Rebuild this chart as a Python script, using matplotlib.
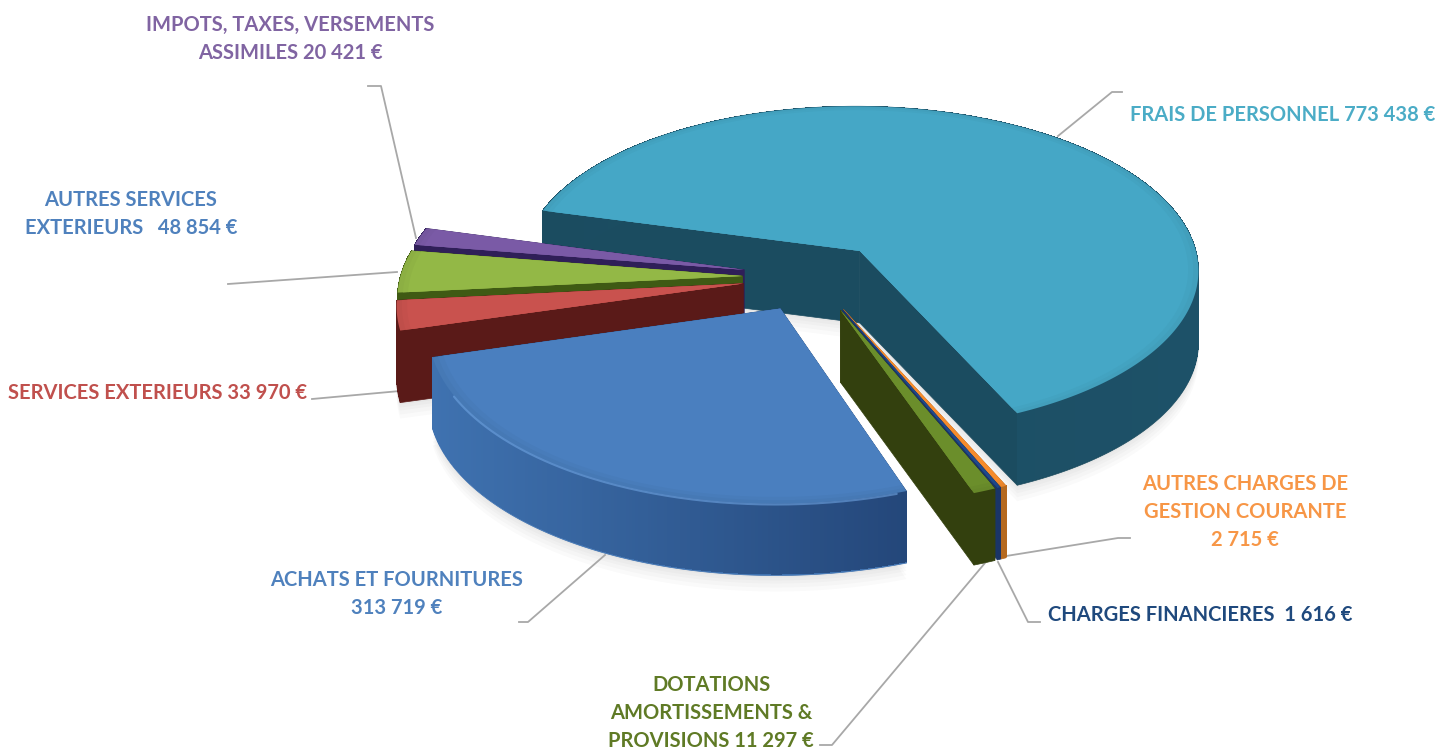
import numpy as np
import matplotlib
matplotlib.use("Agg")
import matplotlib.pyplot as plt
from matplotlib.colors import to_rgb

# clockwise from the back left, same order as the original pie
names = ["FRAIS DE PERSONNEL", "AUTRES CHARGES", "CHARGES FINANCIERES", "DOTATIONS",
         "ACHATS", "SERVICES EXTERIEURS", "AUTRES SERVICES", "IMPOTS"]
values = [773438, 2715, 1616, 11297, 313719, 33970, 48854, 20421]
top_colors = ["#45a7c6", "#f58b2c", "#1f4a8c", "#6b8e2b", "#4a7fbf", "#c9524e", "#93b846", "#7a5aa6"]
wall_left = ["#1b4c60", "#b5691f", "#1a3568", "#33400e", "#3f72b0", "#5a1a18", "#3f5a14", "#2f1f58"]
wall_right = ["#1d5168", "#b5691f", "#1a3568", "#33400e", "#24477a", "#5a1a18", "#3f5a14", "#2f1f58"]

labels = ["FRAIS DE PERSONNEL 773 438 €", "AUTRES CHARGES DE\nGESTION COURANTE\n2 715 €",
          "CHARGES FINANCIERES  1 616 €", "DOTATIONS\nAMORTISSEMENTS &\nPROVISIONS 11 297 €",
          "ACHATS ET FOURNITURES\n313 719 €", "SERVICES EXTERIEURS 33 970 €",
          "AUTRES SERVICES\nEXTERIEURS   48 854 €", "IMPOTS, TAXES, VERSEMENTS\nASSIMILES 20 421 €"]
label_colors = ["#4bacc6", "#f79646", "#1f497d", "#5f7a25", "#4f81bd", "#c0504d", "#4f81bd", "#8064a2"]
label_pos = [(1283, 115), (1245, 512), (1200, 615), (711, 713), (397, 594), (158, 393), (131, 214), (290, 39)]

leaders = [[(1122, 92), (1112, 92), (1058, 136)],
           [(1130, 538), (1118, 538), (1000, 557)],
           [(1040, 622), (1028, 622), (998, 562)],
           [(820, 745), (832, 745), (985, 563)],
           [(519, 622), (528, 622), (605, 555)],
           [(312, 399), (400, 391)],
           [(228, 284), (397, 272)],
           [(368, 86), (381, 86), (416, 238)]]

start_angle = 165
explode = 0.21
depth = 72
cx, cy = 814, 277
rx, ry, persp = 342, 166, 0.11


def project(u, v):
    w = 1 + persp * v
    return cx + rx * u / w, cy - ry * v / w


def mix(c1, c2, t):
    a, b = np.array(to_rgb(c1)), np.array(to_rgb(c2))
    return tuple(a + (b - a) * t)


fig = plt.figure(figsize=(14.43, 7.49), dpi=100)
ax = fig.add_axes([0, 0, 1, 1])
ax.set_xlim(0, 1443)
ax.set_ylim(749, 0)
ax.axis("off")

sweeps = np.array(values) / sum(values) * 360
ends = start_angle - np.cumsum(sweeps)
starts = ends + sweeps

slices = {}
for i in range(len(values)):
    mid = np.radians((starts[i] + ends[i]) / 2)
    t = np.radians(np.linspace(starts[i], ends[i], max(int(sweeps[i] * 2), 3)))
    ox, oy = explode * np.cos(mid), explode * np.sin(mid)
    slices[i] = (ox, oy, t)


def arc_xy(i, f=1.0):
    ox, oy, t = slices[i]
    return project(ox + f * np.cos(t), oy + f * np.sin(t))


# soft shadow under the pie
for i in [0, 4, 5]:
    x, y = arc_xy(i)
    ox, oy, t = slices[i]
    ax0, ay0 = project(ox, oy)
    for s in [16, 12, 8, 5, 2]:
        ax.fill(np.r_[ax0, x], np.r_[ay0, y] + depth + s, color="#000000", alpha=0.02, lw=0)


def draw_slice(i):
    ox, oy, t = slices[i]
    x, y = arc_xy(i)
    ax0, ay0 = project(ox, oy)
    # the two cut faces
    for px, py in [(x[0], y[0]), (x[-1], y[-1])]:
        ax.fill([ax0, px, px, ax0], [ay0, py, py + depth, ay0 + depth],
                color=wall_left[i] if i != 4 else wall_right[i], lw=0.5)
    # curved wall, base colour first so the bottom edge stays smooth
    ax.fill(np.r_[x, x[::-1]], np.r_[y, y[::-1] + depth], color=wall_left[i], lw=0.5)
    for j in range(len(x) - 1):
        f = (x[j] - x.min()) / max(x.max() - x.min(), 1)
        ax.fill([x[j], x[j + 1], x[j + 1], x[j]], [y[j], y[j + 1], y[j + 1] + depth - 1.5, y[j] + depth - 1.5],
                color=mix(wall_left[i], wall_right[i], f), lw=0, antialiased=False)
    # top face, slightly darker rim
    for f, k in [(1.0, 0.05), (0.985, 0.025), (0.97, 0.0)]:
        xf, yf = arc_xy(i, f)
        ax.fill(np.r_[ax0, xf], np.r_[ay0, yf], color=mix(top_colors[i], "#000000", k), lw=0)
    if i == 4:
        # highlight along the rounded front edge
        ax.plot(x[3:-25], y[3:-25] + 1, color="#6fa4e2", lw=1.5, alpha=0.6, solid_capstyle="round")


for line in leaders:
    xs, ys = zip(*line)
    ax.plot(xs, ys, color="#a8a8a8", lw=1.3, zorder=1)

for i in [0, 7, 6, 5, 1, 2, 3, 4]:
    draw_slice(i)

for i in range(len(labels)):
    ax.text(label_pos[i][0], label_pos[i][1], labels[i], color=label_colors[i], family="Lato",
            weight="bold", fontsize=14.5, ha="center", va="center", linespacing=1.48)

fig.savefig("out.png", dpi=100)
